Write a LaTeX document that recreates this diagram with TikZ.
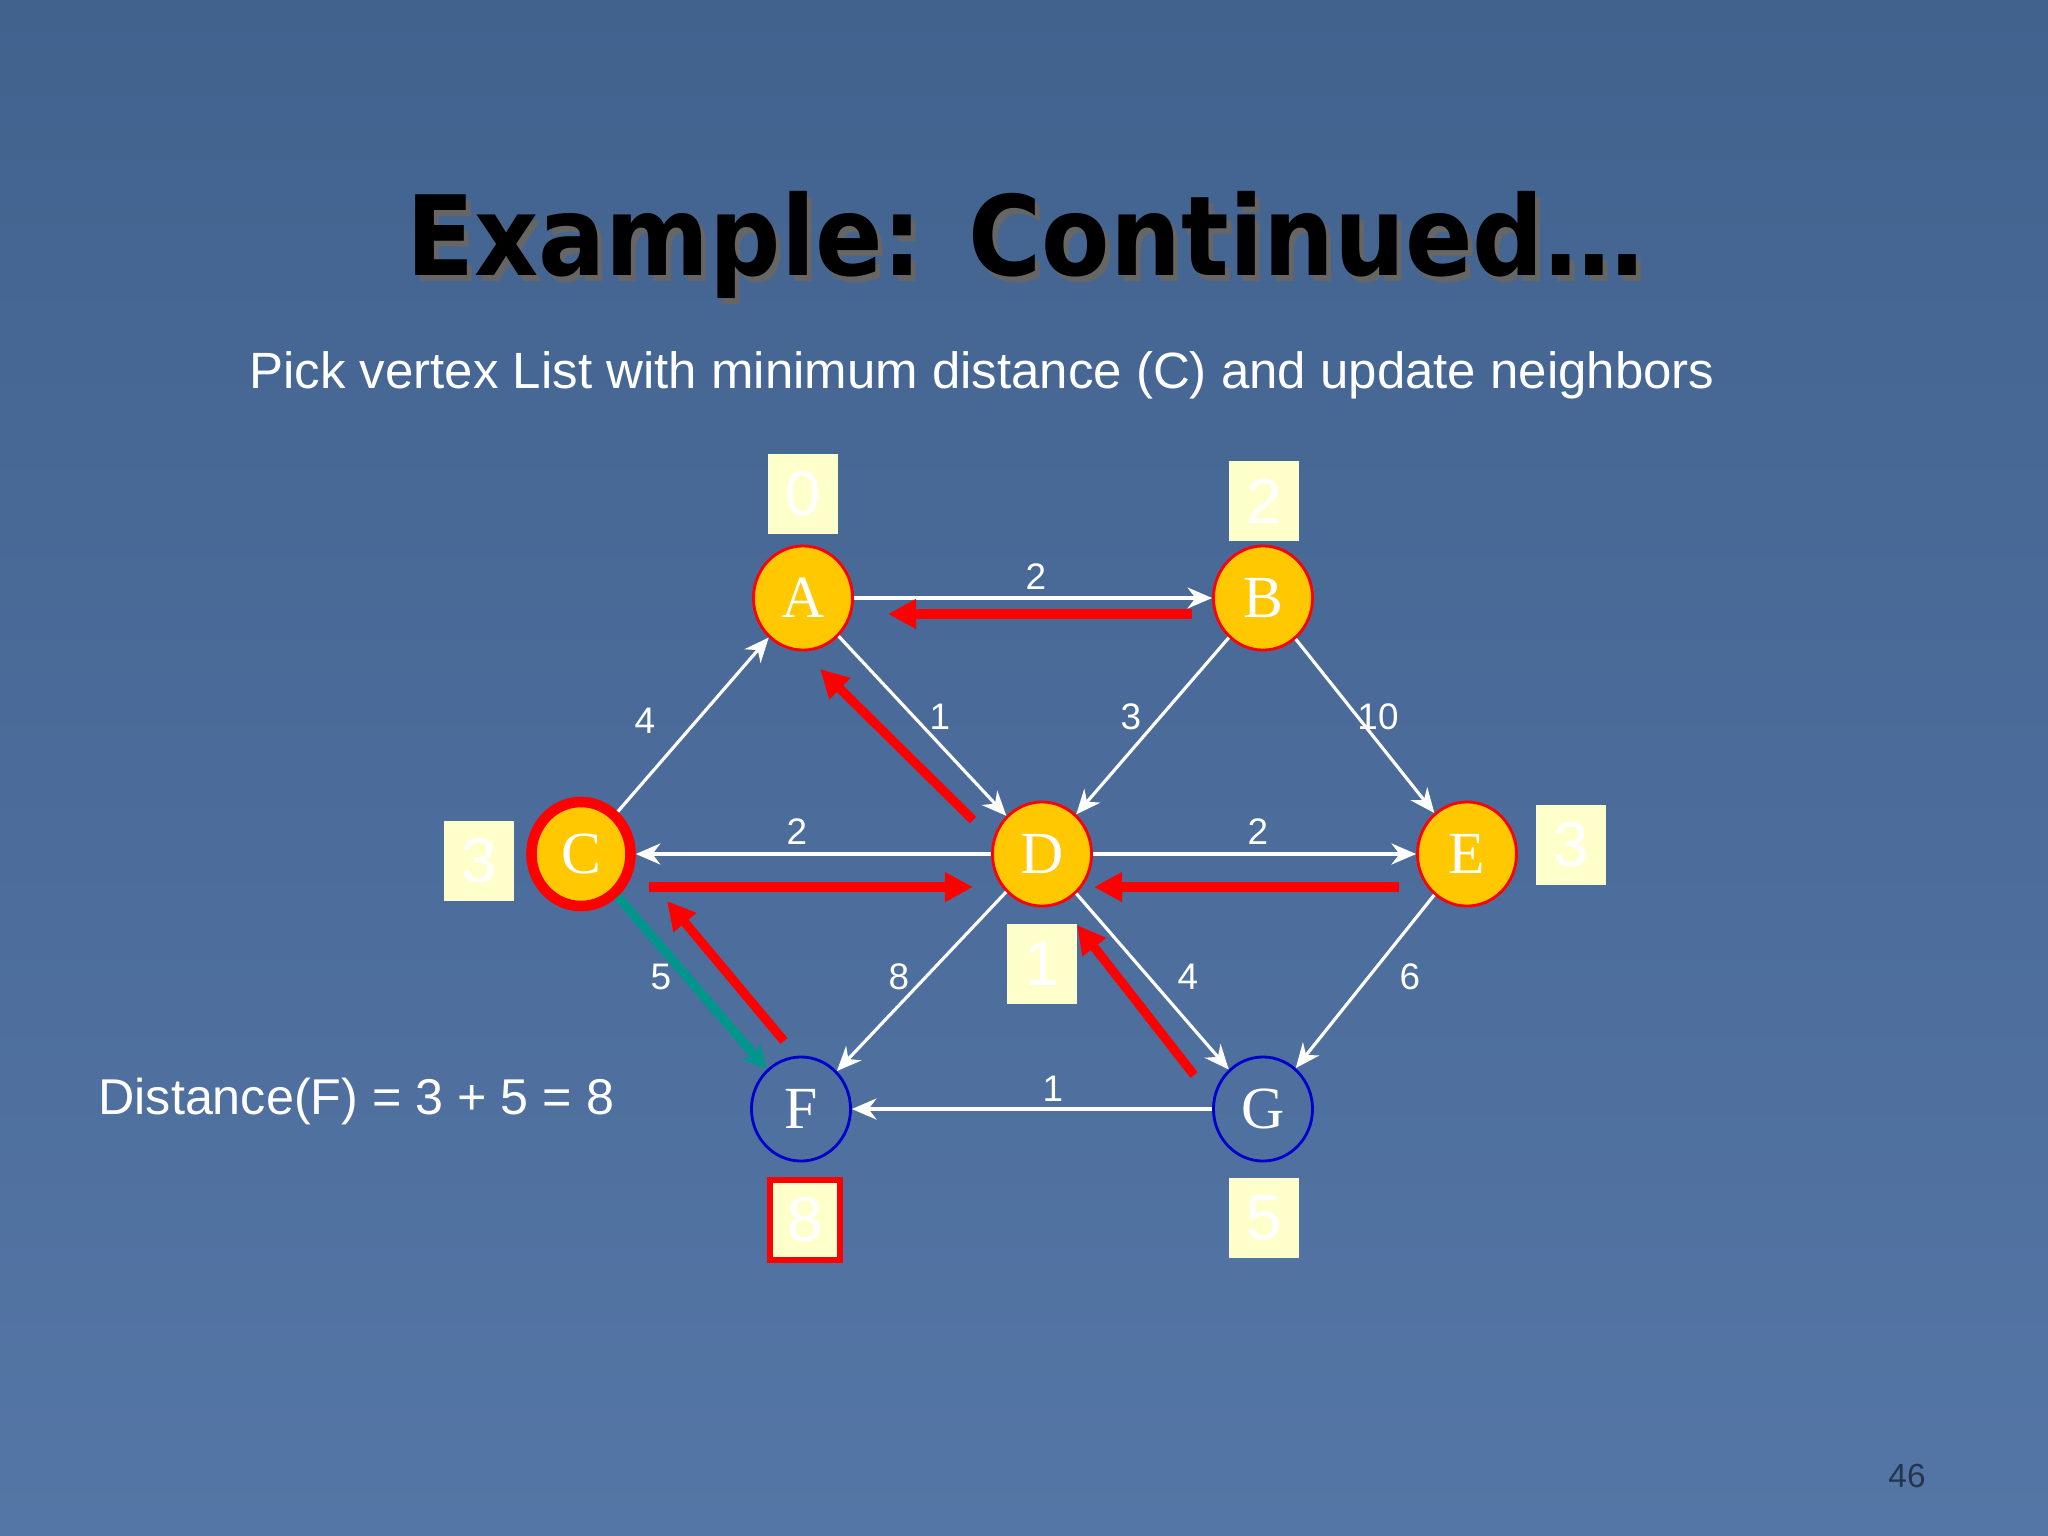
\documentclass[tikz,border=0pt]{standalone}
\usepackage{fontspec}
\setmainfont{Liberation Sans}
\newfontfamily\serifnode{Liberation Serif}
\newfontfamily\titlefont{DejaVu Sans Condensed}
\usetikzlibrary{arrows.meta,shapes.geometric}
\definecolor{bgtop}{RGB}{66,98,142}
\definecolor{bgbot}{RGB}{84,118,166}
\definecolor{nodeyel}{RGB}{255,200,0}
\definecolor{boxyel}{RGB}{255,255,204}
\definecolor{teal}{RGB}{0,150,140}
\tikzset{
  vtx/.style={ellipse,minimum width=0.99cm,minimum height=1.04cm,inner sep=0pt,draw=red,line width=0.8pt,fill=nodeyel,text=white,font=\serifnode\fontsize{17}{17}\selectfont},
  bvtx/.style={vtx,fill=none,draw=blue!80!black},
  dbox/.style={rectangle,minimum width=0.70cm,minimum height=0.80cm,inner sep=0pt,fill=boxyel,text=white,font=\fontsize{18}{18}\selectfont},
  wedge/.style={draw=white,line width=0.9pt,-{Stealth[length=7pt,width=6pt]}},
  redarr/.style={draw=red,line width=2.6pt,-{Triangle[length=8pt,width=8pt]}},
  elab/.style={text=white,font=\fontsize{10.5}{11}\selectfont,inner sep=0pt}
}
\newcommand{\titletext}{Example: Continued…}
\begin{document}
\begin{tikzpicture}[x=0.01cm,y=-0.01cm]
\shade[top color=bgtop,bottom color=bgbot] (0,0) rectangle (2048,1536);
\useasboundingbox (0,0) rectangle (2048,1536);
% title with shadow
\node[text=black,font=\titlefont\bfseries\fontsize{31.5}{36}\selectfont] (title) at (1025,248)
  {\rlap{\hspace{0.05cm}\raisebox{-0.06cm}{\textcolor{black!60}{\titletext}}}\titletext};
\node[text=white,font=\fontsize{14.5}{16}\selectfont] (sub) at (982,375) {Pick vertex List with minimum distance (C) and update neighbors};
\node[text=white,font=\fontsize{14.3}{16}\selectfont,anchor=west] (dist) at (86,1101) {Distance(F) = 3 + 5 = 8};
\node[text=black!45!bgtop,font=\fontsize{9.5}{10}\selectfont] (pg) at (1907,1476) {46};
% vertices
\node[vtx] (A) at (803,598) {A};
\node[vtx] (B) at (1263,598) {B};
\node[vtx,line width=3pt] (C) at (581,854) {C};
\node[vtx] (D) at (1042,854) {D};
\node[vtx] (E) at (1467,854) {E};
\node[bvtx] (F) at (801,1109) {F};
\node[bvtx] (G) at (1263,1109) {G};
% distance boxes
\node[dbox] (bA) at (803,494) {0};
\node[dbox] (bB) at (1264,501) {2};
\node[dbox] (bC) at (479,861) {3};
\node[dbox] (bE) at (1571,845) {3};
\node[dbox] (bD) at (1042,964) {1};
\node[dbox,draw=red,line width=1.5pt] (bF) at (805,1220) {8};
\node[dbox] (bG) at (1264,1218) {5};
% edges
\draw[wedge] (A) -- (B);
\draw[wedge] (B) -- (D);
\draw[wedge] (A) -- (D);
\draw[wedge] (C) -- (A);
\draw[wedge] (D) -- (C);
\draw[wedge] (D) -- (E);
\draw[wedge] (B) -- (E);
\draw[wedge] (D) -- (F);
\draw[wedge] (D) -- (G);
\draw[wedge] (E) -- (G);
\draw[wedge] (G) -- (F);
\draw[draw=teal,line width=2.6pt,-{Stealth[length=7pt,width=7pt]}] (C) -- (F);
% labels
\node[elab] at (1036,577) {2};
\node[elab] at (645,721) {4};
\node[elab] at (940,717) {1};
\node[elab] at (1131,717) {3};
\node[elab] at (1378,717) {10};
\node[elab] at (797,832) {2};
\node[elab] at (1258,832) {2};
\node[elab] at (661,977) {5};
\node[elab] at (899,977) {8};
\node[elab] at (1188,977) {4};
\node[elab] at (1410,977) {6};
\node[elab] at (1053,1089) {1};
% red arrows
\coordinate (r1s) at (1192,614); \coordinate (r1e) at (888,614);
\coordinate (r2s) at (973,820); \coordinate (r2e) at (820,669);
\coordinate (r3s) at (649,887); \coordinate (r3e) at (973,887);
\coordinate (r4s) at (1399,887); \coordinate (r4e) at (1094,887);
\coordinate (r5s) at (1194,1075); \coordinate (r5e) at (1077,925);
\coordinate (r6s) at (784,1041); \coordinate (r6e) at (667,901);
\draw[redarr] (r1s) -- (r1e);
\draw[redarr] (r2s) -- (r2e);
\draw[redarr] (r3s) -- (r3e);
\draw[redarr] (r4s) -- (r4e);
\draw[redarr] (r5s) -- (r5e);
\draw[redarr] (r6s) -- (r6e);
\end{tikzpicture}
\end{document}
